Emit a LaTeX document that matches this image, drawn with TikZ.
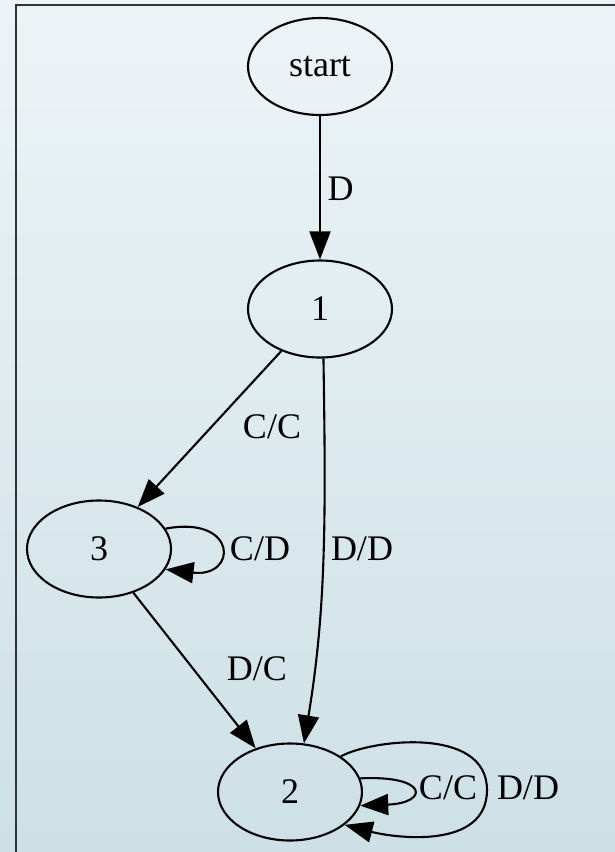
\documentclass[tikz,border=0pt]{standalone}
\usepackage{fontspec}
\setmainfont{Liberation Serif}
\usetikzlibrary{shapes.geometric,arrows.meta}

\definecolor{bgtop}{RGB}{237,244,247}
\definecolor{bgbottom}{RGB}{205,224,230}
\definecolor{frame}{RGB}{51,51,51}

\tikzset{
  state/.style={draw=black, line width=2.1pt, ellipse, minimum width=144pt,
    minimum height=97pt, inner sep=0pt, font=\fontsize{36}{43}\selectfont},
  edge/.style={draw=black, line width=2.1pt,
    -{Triangle[length=28pt,width=21pt]}},
  lbl/.style={anchor=base, inner sep=0pt, font=\fontsize{36}{43}\selectfont}
}

\begin{document}
\begin{tikzpicture}[x=1pt, y=-1pt]
  \useasboundingbox (0,0) rectangle (615,852);
  % background and frame
  \shade[top color=bgtop, bottom color=bgbottom] (0,0) rectangle (615,852);
  \draw[frame, line width=1.6pt] (16,852) -- (16,5) -- (615,5);

  % states
  \node[state] (start) at (320,66.5) {start};
  \node[state] (n1) at (320,309) {1};
  \node[state] (n3) at (99,549) {3};
  \node[state] (n2) at (290,792) {2};

  % transitions
  \draw[edge] (start) -- (n1);
  \draw[edge] (n1) -- (n3);
  \draw[edge] (n3) -- (n2);
  \draw[edge] (n1.-86) .. controls (326,520) and (326,610) .. (n2.74);
  \draw[edge] (n3.17) .. controls (238,515) and (238,578) .. (n3.-17);
  \draw[edge] (n2.11) .. controls (429,775) and (429,803) .. (n2.-11);
  \draw[edge] (n2.35) .. controls (370,740) and (487,725) .. (487,790)
                      .. controls (487,850) and (395,838) .. (n2.-31);

  % transition labels
  \node[lbl] (lD)   at (340.5,200) {D};
  \node[lbl] (lCC1) at (272,438) {C/C};
  \node[lbl] (lDD1) at (362,560) {D/D};
  \node[lbl] (lCD)  at (260,560) {C/D};
  \node[lbl] (lDC)  at (257,680) {D/C};
  \node[lbl] (lCC2) at (448,799) {C/C};
  \node[lbl] (lDD2) at (528,799) {D/D};
\end{tikzpicture}
\end{document}
